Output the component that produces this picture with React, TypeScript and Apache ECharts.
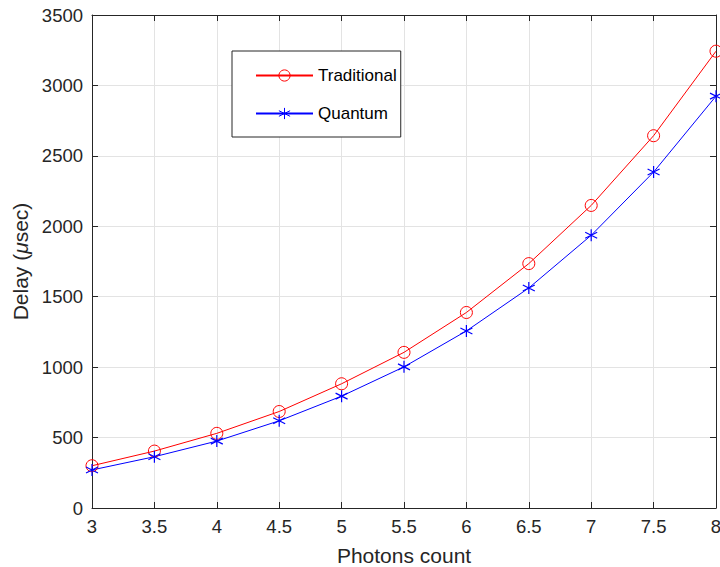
import React, { useEffect, useRef } from "react";
import * as echarts from "echarts";

const photons = [3, 3.5, 4, 4.5, 5, 5.5, 6, 6.5, 7, 7.5, 8];
const traditional = [300, 404, 530, 685, 882, 1105, 1388, 1735, 2148, 2643, 3243];
const quantum = [270, 364, 475, 619, 794, 1002, 1257, 1562, 1936, 2385, 2924];

const FONT = "'Liberation Sans', Arial, Helvetica, sans-serif";
const AX = "#262626";
const STAR = "path://M5,0 L5,10 M0.7,2.5 L9.3,7.5 M0.7,7.5 L9.3,2.5";

export default function App() {
  const ref = useRef<HTMLDivElement>(null);
  useEffect(() => {
    if (!ref.current) return;
    const chart = echarts.init(ref.current, undefined, { renderer: "svg" });
    const axisCommon = {
      type: "value" as const,
      axisLine: { show: true, onZero: false, lineStyle: { color: AX, width: 1 } },
      axisTick: { show: true, inside: true, length: 6, lineStyle: { color: AX } },
    };
    chart.setOption({
      animation: false,
      backgroundColor: "#fff",
      textStyle: { fontFamily: FONT },
      grid: { left: 92, right: 4, top: 15, bottom: 59, containLabel: false, outerBoundsMode: "none" },
      legend: {
        orient: "vertical",
        left: 232,
        top: 51,
        itemWidth: 57,
        itemHeight: 14,
        itemGap: 21,
        padding: [16, 4, 15, 23],
        borderColor: AX,
        borderWidth: 1,
        borderRadius: 0,
        backgroundColor: "#fff",
        selectedMode: false,
        itemStyle: { borderWidth: 1 },
        textStyle: { fontSize: 17, color: "#000", fontFamily: FONT },
        data: ["Traditional", "Quantum"],
      },
      xAxis: [
        {
          ...axisCommon,
          min: 3,
          max: 8,
          interval: 0.5,
          position: "bottom",
          name: "Photons count",
          nameLocation: "middle",
          nameGap: 37,
          nameTextStyle: { fontSize: 21, color: AX, fontFamily: FONT },
          axisLabel: { fontSize: 18.5, color: AX, margin: 9, fontFamily: FONT, formatter: (v: number) => String(v) },
          splitLine: { show: true, lineStyle: { color: "#e3e3e3", width: 1 } },
        },
        {
          ...axisCommon,
          min: 3,
          max: 8,
          interval: 0.5,
          position: "top",
          axisLabel: { show: false },
          splitLine: { show: false },
        },
      ],
      yAxis: [
        {
          ...axisCommon,
          min: 0,
          max: 3500,
          interval: 500,
          position: "left",
          name: "Delay ({i|μ}sec)",
          nameLocation: "middle",
          nameGap: 58,
          nameRotate: 90,
          nameTextStyle: {
            fontSize: 21,
            color: AX,
            fontFamily: FONT,
            rich: { i: { fontSize: 21, fontStyle: "italic", color: AX, fontFamily: FONT } },
          },
          axisLabel: { fontSize: 18.5, color: AX, margin: 9, fontFamily: FONT, formatter: (v: number) => String(v) },
          splitLine: { show: true, lineStyle: { color: "#e3e3e3", width: 1 } },
        },
        {
          ...axisCommon,
          min: 0,
          max: 3500,
          interval: 500,
          position: "right",
          axisLabel: { show: false },
          splitLine: { show: false },
        },
      ],
      series: [
        {
          name: "Traditional",
          type: "line",
          data: photons.map((x, i) => [x, traditional[i]]),
          symbol: "circle",
          symbolSize: 12,
          color: "#ff0000",
          lineStyle: { color: "#ff0000", width: 1 },
          itemStyle: { color: "rgba(255,255,255,0)", borderColor: "#ff0000", borderWidth: 1 },
          clip: false,
        },
        {
          name: "Quantum",
          type: "line",
          data: photons.map((x, i) => [x, quantum[i]]),
          symbol: STAR,
          symbolSize: 12,
          color: "#0000ff",
          lineStyle: { color: "#0000ff", width: 1 },
          itemStyle: { color: "#0000ff", borderColor: "#0000ff", borderWidth: 1.2 },
          clip: false,
        },
      ],
    });
    return () => chart.dispose();
  }, []);
  return (
    <div
      ref={ref}
      style={{ position: "fixed", left: 0, top: 0, width: 720, height: 567 }}
    />
  );
}
